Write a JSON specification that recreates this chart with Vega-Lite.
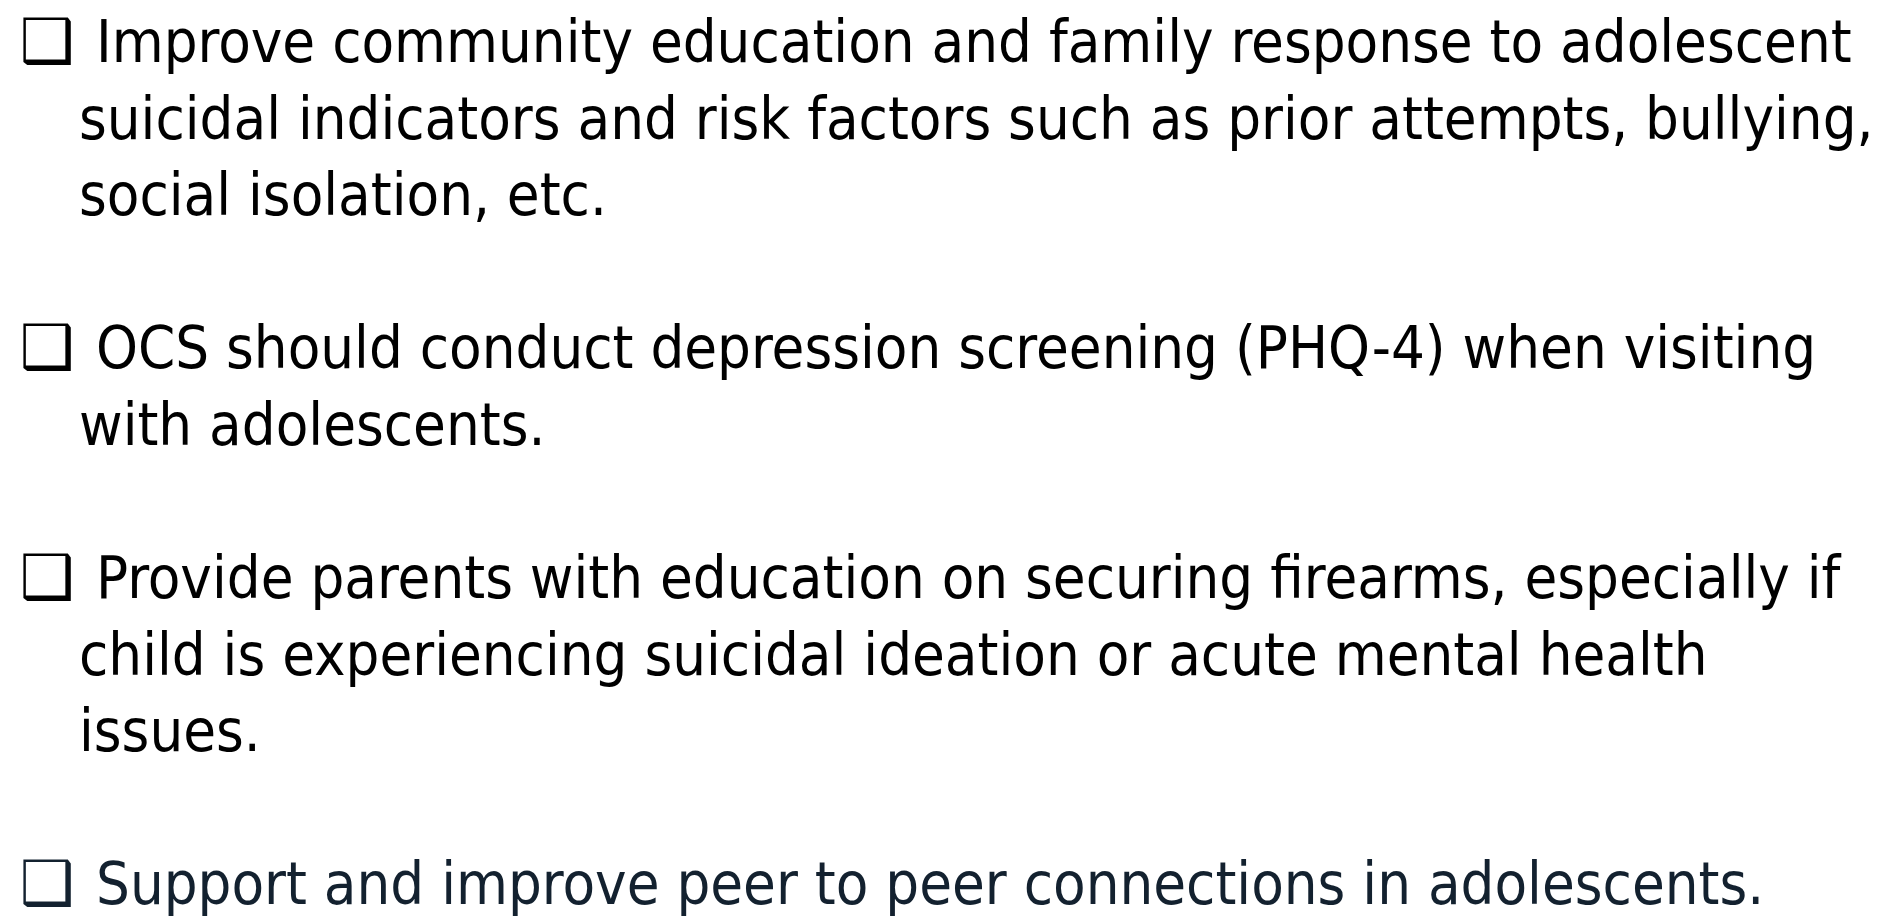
{
  "$schema": "https://vega.github.io/schema/vega-lite/v6.json",
  "width": 1893,
  "height": 917,
  "autosize": {"type": "fit", "contains": "padding"},
  "padding": 0,
  "background": "white",
  "config": {"view": {"stroke": null}},
  "data": {
    "values": [
      {"item": "1", "line": 0, "level": 0, "text": "❑"},
      {"item": "1", "line": 0, "level": 1, "text": "Improve community education and family response to adolescent"},
      {"item": "1", "line": 1, "level": 2, "text": "suicidal indicators and risk factors such as prior attempts, bullying,"},
      {"item": "1", "line": 2, "level": 2, "text": "social isolation, etc."},
      {"item": "2", "line": 4, "level": 0, "text": "❑"},
      {"item": "2", "line": 4, "level": 1, "text": "OCS should conduct depression screening (PHQ-4) when visiting"},
      {"item": "2", "line": 5, "level": 2, "text": "with adolescents."},
      {"item": "3", "line": 7, "level": 0, "text": "❑"},
      {"item": "3", "line": 7, "level": 1, "text": "Provide parents with education on securing firearms, especially if"},
      {"item": "3", "line": 8, "level": 2, "text": "child is experiencing suicidal ideation or acute mental health"},
      {"item": "3", "line": 9, "level": 2, "text": "issues."},
      {"item": "4", "line": 11, "level": 0, "text": "❑"},
      {"item": "4", "line": 11, "level": 1, "text": "Support and improve peer to peer connections in adolescents."}
    ]
  },
  "encoding": {
    "y": {"field": "line", "type": "quantitative", "axis": null,
          "scale": {"domain": [11.1, -0.81], "nice": false, "zero": false}},
    "x": {"field": "level", "type": "quantitative", "axis": null,
          "scale": {"domain": [0, 1, 2], "range": [47, 96, 79], "nice": false, "zero": false}},
    "color": {"field": "item", "type": "nominal", "legend": null,
              "scale": {"domain": ["1", "2", "3", "4"], "range": ["#000000", "#000000", "#000000", "#13212F"]}}
  },
  "layer": [
    {
      "transform": [{"filter": "datum.level == 0"}],
      "mark": {"type": "text", "font": "DejaVu Sans", "fontSize": 61, "align": "center", "baseline": "alphabetic"},
      "encoding": {"text": {"field": "text"}}
    },
    {
      "transform": [{"filter": "datum.level > 0"}],
      "mark": {"type": "text", "font": "DejaVu Sans Condensed, sans-serif", "fontSize": 59.3, "align": "left", "baseline": "alphabetic"},
      "encoding": {"text": {"field": "text"}}
    }
  ]
}
